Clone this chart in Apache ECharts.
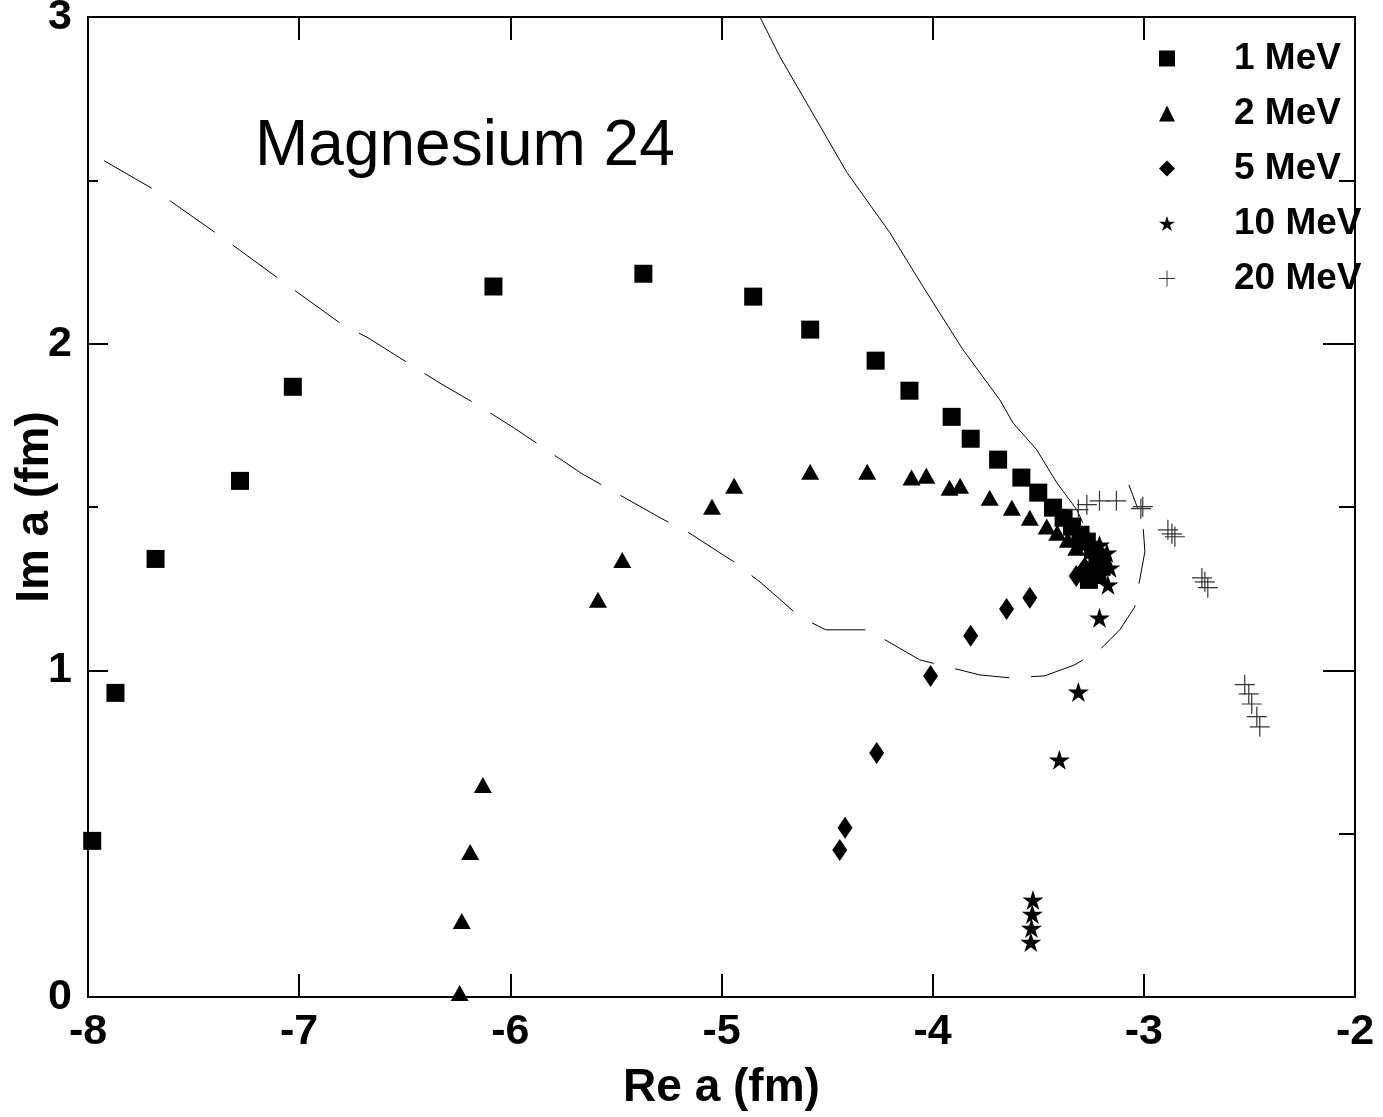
<!DOCTYPE html>
<html>
<head>
<meta charset="utf-8">
<title>Magnesium 24</title>
<script src="https://cdn.jsdelivr.net/npm/echarts@6/dist/echarts.min.js"></script>
<style>
  html, body { margin: 0; padding: 0; background: #fff; }
  #chart { width: 1383px; height: 1117px; }
</style>
</head>
<body>
<div id="chart"></div>
<script>
// [Re a, Im a] in fm
const mev1 = [
  [-7.98, 0.478], [-7.87, 0.931], [-7.68, 1.341], [-7.28, 1.580], [-7.03, 1.868],
  [-6.08, 2.175], [-5.37, 2.214], [-4.85, 2.144], [-4.58, 2.043], [-4.27, 1.948],
  [-4.11, 1.856], [-3.91, 1.776], [-3.82, 1.709], [-3.69, 1.645], [-3.58, 1.590],
  [-3.50, 1.544], [-3.43, 1.498], [-3.38, 1.467], [-3.34, 1.440], [-3.30, 1.415],
  [-3.27, 1.394], [-3.24, 1.369], [-3.22, 1.345], [-3.20, 1.317], [-3.22, 1.292],
  [-3.26, 1.277]
]
const mev2 = [
  [-6.24, 0.012], [-6.23, 0.233], [-6.19, 0.444], [-6.13, 0.649], [-5.585, 1.216],
  [-5.47, 1.338], [-5.045, 1.501], [-4.94, 1.565], [-4.58, 1.608], [-4.31, 1.608],
  [-4.10, 1.590], [-4.03, 1.596], [-3.92, 1.559], [-3.87, 1.565], [-3.73, 1.528],
  [-3.625, 1.498], [-3.54, 1.467], [-3.46, 1.440], [-3.41, 1.421], [-3.36, 1.400],
  [-3.32, 1.375]
]
const mev5 = [
  [-4.44, 0.450], [-4.415, 0.518], [-4.265, 0.747], [-4.01, 0.983], [-3.82, 1.106],
  [-3.65, 1.188], [-3.54, 1.222], [-3.32, 1.289], [-3.28, 1.314]
]
const mev10 = [
  [-3.535, 0.168], [-3.532, 0.211], [-3.528, 0.254], [-3.525, 0.297], [-3.40, 0.726],
  [-3.31, 0.934], [-3.21, 1.161], [-3.17, 1.262], [-3.16, 1.314], [-3.175, 1.360],
  [-3.21, 1.384]
]
const mev20 = [
  [-3.31, 1.492], [-3.27, 1.507], [-3.21, 1.519], [-3.13, 1.519], [-3.014, 1.495],
  [-3.005, 1.501], [-2.886, 1.430], [-2.867, 1.418], [-2.853, 1.409], [-2.725, 1.283],
  [-2.711, 1.271], [-2.697, 1.253], [-2.522, 0.956], [-2.503, 0.928], [-2.489, 0.897],
  [-2.465, 0.858], [-2.451, 0.827]
]
const solidCurve = [
  [-4.818, 3.0], [-4.724, 2.879], [-4.406, 2.524], [-4.203, 2.340], [-4.046, 2.175],
  [-3.857, 1.982], [-3.682, 1.828], [-3.620, 1.758], [-3.507, 1.675], [-3.412, 1.574],
  [-3.317, 1.491], [-3.289, 1.452]
]
const dashedCurve = [
  [-7.924, 2.560], [-7.688, 2.472], [-7.351, 2.319], [-7.025, 2.165], [-6.802, 2.061],
  [-6.674, 2.018], [-6.338, 1.881], [-6.149, 1.810], [-5.978, 1.740], [-5.661, 1.602],
  [-5.282, 1.464], [-5.154, 1.421], [-4.941, 1.332], [-4.813, 1.268], [-4.629, 1.164],
  [-4.506, 1.124], [-4.307, 1.124], [-4.061, 1.032], [-3.777, 0.986], [-3.634, 0.977],
  [-3.469, 0.983], [-3.327, 1.017], [-3.208, 1.063], [-3.114, 1.124], [-3.043, 1.194],
  [-2.995, 1.363], [-3.005, 1.455], [-3.071, 1.568]
]
const seriesNames = ['1 MeV', '2 MeV', '5 MeV', '10 MeV', '20 MeV']

const FONT = '"Liberation Sans", Arial, sans-serif'
const STAR = 'path://M0,-1L0.223,-0.307L0.951,-0.309L0.361,0.117L0.588,0.809L0,0.38L-0.588,0.809L-0.361,0.117L-0.951,-0.309L-0.223,-0.307Z'
const PLUS = 'path://M-1,-0.06L1,-0.06L1,0.06L-1,0.06ZM-0.06,-1L0.06,-1L0.06,1L-0.06,1Z'

function axisX(position, showLabels) {
  return {
    type: 'value', position, min: -8, max: -2, interval: 1,
    axisLine: { show: true, onZero: false, lineStyle: { color: '#000', width: 2 } },
    axisTick: { show: true, inside: true, length: 23, lineStyle: { color: '#000', width: 2 } },
    axisLabel: { show: showLabels, color: '#000', fontSize: 43, fontWeight: 'bold', fontFamily: FONT, margin: 14 },
    splitLine: { show: false },
    name: showLabels ? 'Re a (fm)' : '',
    nameLocation: 'middle', nameGap: 68, nameMoveOverlap: false,
    nameTextStyle: { color: '#000', fontSize: 46, fontWeight: 'bold', fontFamily: FONT }
  }
}

function axisY(position, showLabels, tickLen) {
  return {
    type: 'value', position, min: 0, max: 3, interval: 1,
    axisLine: { show: true, onZero: false, lineStyle: { color: '#000', width: 2 } },
    axisTick: { show: true, inside: true, length: tickLen, lineStyle: { color: '#000', width: 2 } },
    minorTick: { show: true, splitNumber: 2, length: tickLen / 2, lineStyle: { color: '#000', width: 2 } },
    axisLabel: { show: showLabels, color: '#000', fontSize: 43, fontWeight: 'bold', fontFamily: FONT, margin: 16 },
    splitLine: { show: false },
    name: showLabels ? 'Im a (fm)' : '',
    nameLocation: 'middle', nameGap: 30, nameRotate: 90, nameMoveOverlap: false,
    nameTextStyle: { color: '#000', fontSize: 46, fontWeight: 'bold', fontFamily: FONT }
  }
}

function scatter(name, data, symbol, size, color) {
  return {
    name, type: 'scatter', data, symbol, symbolSize: size, symbolKeepAspect: true,
    itemStyle: { color: color || '#000', opacity: 1 },
    emphasis: { disabled: true },
    z: 3
  }
}

const chart = echarts.init(document.getElementById('chart'))

chart.setOption({
  backgroundColor: '#fff',
  animation: false,
  grid: { left: 88, right: 28, top: 17, bottom: 120, containLabel: false, outerBoundsMode: 'none' },
  xAxis: [axisX('bottom', true), axisX('top', false)],
  yAxis: [axisY('left', true, 20), axisY('right', false, 32)],
  legend: {
    data: seriesNames,
    orient: 'vertical',
    left: 1159, top: 40,
    padding: 0,
    itemWidth: 16, itemHeight: 16, itemGap: 18,
    selectedMode: false,
    itemStyle: { opacity: 1 },
    textStyle: { color: '#000', fontSize: 37, lineHeight: 37, fontWeight: 'bold', fontFamily: FONT, padding: [0, 0, 0, 54] },
    z: 10
  },
  graphic: [{
    type: 'text', left: 255, top: 115,
    style: { text: 'Magnesium 24', fontSize: 64, fontFamily: FONT, fill: '#000' }
  }],
  series: [
    scatter(seriesNames[0], mev1, 'rect', 18),
    scatter(seriesNames[1], mev2, 'triangle', [18, 16]),
    scatter(seriesNames[2], mev5, 'diamond', [15, 22]),
    scatter(seriesNames[3], mev10, STAR, 21),
    scatter(seriesNames[4], mev20, PLUS, 20, '#333'),
    {
      type: 'line', data: solidCurve, showSymbol: false, silent: true,
      lineStyle: { color: '#000', width: 1 }, z: 2
    },
    {
      type: 'line', data: dashedCurve, showSymbol: false, silent: true,
      lineStyle: { color: '#000', width: 1, type: [55, 22] }, z: 2
    }
  ]
})
</script>
</body>
</html>
